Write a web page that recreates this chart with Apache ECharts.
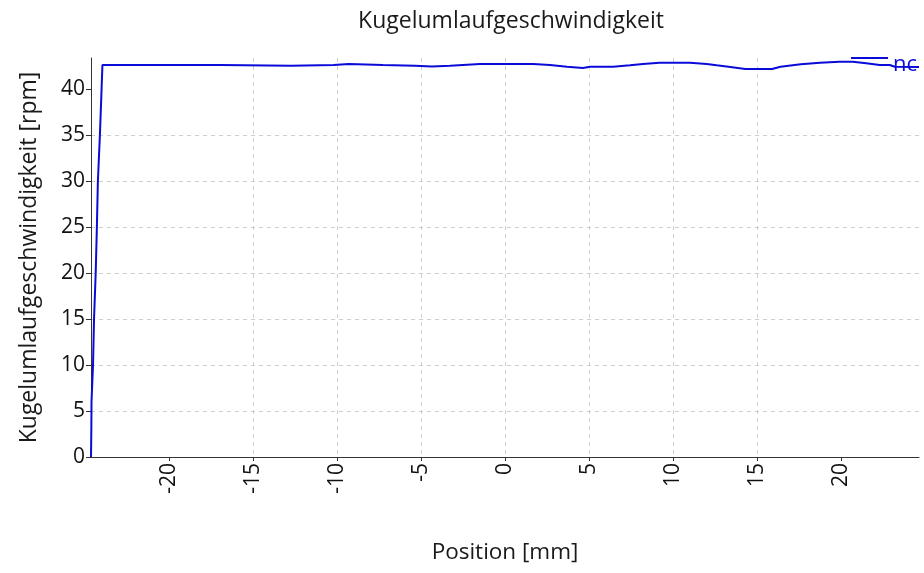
<!DOCTYPE html>
<html>
<head>
<meta charset="utf-8">
<script src="https://cdn.jsdelivr.net/npm/echarts@6/dist/echarts.min.js"></script>
<style>
  html, body { margin: 0; padding: 0; background: #fff; }
  #chart { width: 924px; height: 573px; }
</style>
</head>
<body>
<div id="chart"></div>
<script>
// Ball circulation speed over position
const seriesName = 'nc';
const positionMm = [
  -24.64, -24.62, -24.61, -24.52, -24.46, -24.36, -24.29, -24.23, -24.11, -24.02, -23.96,
  -16.9, -16.85, -12.74, -12.7, -10.2, -10.1, -9.3, -9.25, -7.26, -7.2, -5.36, -5.3,
  -4.35, -4.3, -3.27, -1.49, 1.67, 2.68, 3.69, 4.64, 5.06, 6.43, 7.44, 8.21, 9.2,
  11.0, 12.0, 12.6, 13.3, 14.3, 15.9, 16.4, 17.6, 18.75, 19.9, 20.7, 21.5, 22.3,
  22.9, 23.2, 24.64
];
const speedRpm = [
  0, 3, 6, 10, 15, 20, 25, 30, 35, 39.5, 42.61,
  42.61, 42.53, 42.53, 42.61, 42.61, 42.72, 42.72, 42.61, 42.61, 42.53, 42.53, 42.45,
  42.45, 42.53, 42.53, 42.72, 42.72, 42.61, 42.43, 42.28, 42.43, 42.43, 42.57, 42.72, 42.86,
  42.86, 42.72, 42.57, 42.43, 42.17, 42.17, 42.42, 42.68, 42.86, 42.97, 42.97, 42.79, 42.61,
  42.61, 42.42, 42.39
];
const xTicks = [-20, -15, -10, -5, 0, 5, 10, 15, 20];
const yTicks = [0, 5, 10, 15, 20, 25, 30, 35, 40];
const xRange = [-24.64, 24.64];
const yRange = [0, 43.37];

const fontFamily = '"Open Sans", "Noto Sans", sans-serif';
const lineColor = '#0b0bd9';
const gridLine = { show: true, showMinLine: false, showMaxLine: false,
  lineStyle: { color: '#cfcfcf', type: [4, 4], width: 1 } };

// legend swatch: a short bar sitting at the top of a taller, otherwise empty box
const legendIcon = 'path://M0,0L37,0L37,2L0,2Z M0,16L0,16Z M37,16L37,16Z';

const chart = echarts.init(document.getElementById('chart'), null, { renderer: 'canvas' });
chart.setOption({
  animation: false,
  backgroundColor: '#ffffff',
  title: {
    text: 'Kugelumlaufgeschwindigkeit',
    left: 506, top: 5, textAlign: 'center',
    textStyle: { fontFamily, fontSize: 23, fontWeight: 'normal', color: '#1a1a1a' }
  },
  legend: {
    right: 2, top: 49,
    itemWidth: 37, itemHeight: 16, itemGap: 4,
    icon: legendIcon,
    itemStyle: { borderWidth: 0 },
    data: [seriesName],
    textStyle: { fontFamily, fontSize: 22, color: lineColor }
  },
  grid: { left: 91, right: 5, top: 58, bottom: 116, containLabel: false },
  xAxis: {
    type: 'value',
    min: xRange[0], max: xRange[1],
    name: 'Position [mm]',
    nameLocation: 'middle', nameGap: 84,
    nameTextStyle: { fontFamily, fontSize: 22.5, color: '#1a1a1a' },
    axisLine: { show: true, onZero: false, lineStyle: { color: '#333', width: 1 } },
    axisTick: { show: true, length: 4, customValues: xTicks, lineStyle: { color: '#333' } },
    axisLabel: { rotate: 90, margin: 6, fontFamily, fontSize: 21, color: '#111', customValues: xTicks },
    splitLine: gridLine
  },
  yAxis: {
    type: 'value',
    min: yRange[0], max: yRange[1],
    name: 'Kugelumlaufgeschwindigkeit [rpm]',
    nameLocation: 'middle', nameGap: 50,
    nameTextStyle: { fontFamily, fontSize: 23, color: '#1a1a1a' },
    axisLine: { show: true, onZero: false, lineStyle: { color: '#333', width: 1 } },
    axisTick: { show: true, length: 5, customValues: yTicks, lineStyle: { color: '#333' } },
    axisLabel: { margin: 6, fontFamily, fontSize: 21, color: '#111', customValues: yTicks },
    splitLine: gridLine
  },
  series: [{
    name: seriesName,
    type: 'line',
    showSymbol: false,
    clip: true,
    lineStyle: { color: lineColor, width: 2 },
    itemStyle: { color: lineColor },
    data: positionMm.map((x, i) => [x, speedRpm[i]])
  }]
});
</script>
</body>
</html>
